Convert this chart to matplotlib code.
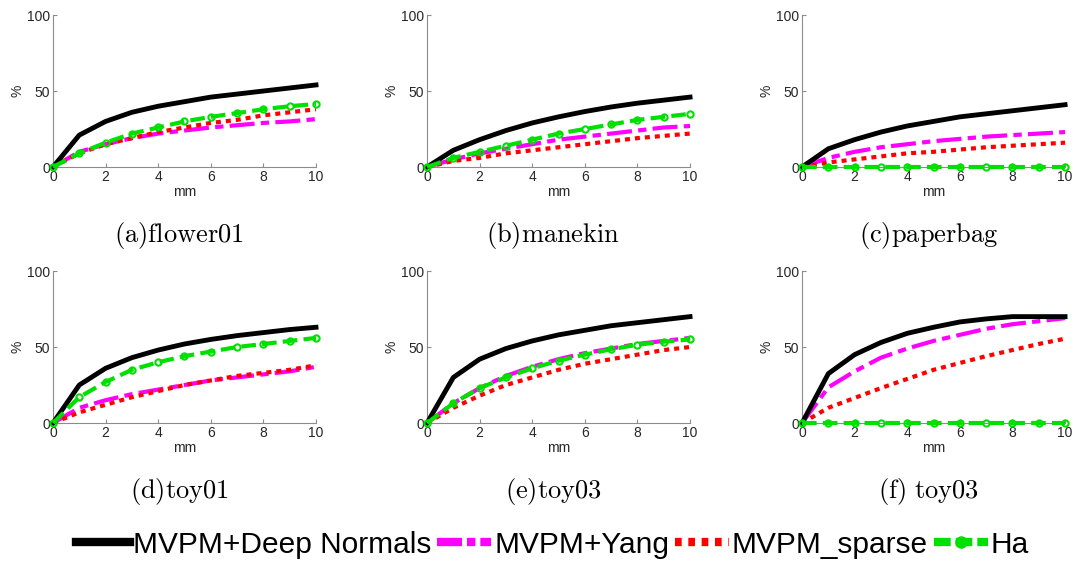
import numpy as np
import matplotlib
matplotlib.use("Agg")
import matplotlib.pyplot as plt
from matplotlib.lines import Line2D

plt.rcParams['font.family'] = ['Liberation Sans', 'DejaVu Sans']
plt.rcParams['mathtext.fontset'] = 'cm'

mm = [0, 1, 2, 3, 4, 5, 6, 7, 8, 9, 10]

titles = ['(a)flower01', '(b)manekin', '(c)paperbag', '(d)toy01', '(e)toy03', '(f) toy03']

# accuracy (%) vs. error threshold (mm), one list per method per scene
deep_normals = [
    [0, 21, 30, 36, 40, 43, 46, 48, 50, 52, 54],
    [0, 11, 18, 24, 29, 33, 36.5, 39.5, 42, 44, 46],
    [0, 12, 18, 23, 27, 30, 33, 35, 37, 39, 41],
    [0, 25, 36, 43, 48, 52, 55, 57.5, 59.5, 61.5, 63],
    [0, 30, 42, 49, 54, 58, 61, 64, 66, 68, 70],
    [0, 32.5, 45, 53, 59, 63, 66.5, 68.5, 70, 70, 70],
]
yang = [
    [0, 10, 15, 19, 22, 24, 26, 27.5, 29, 30, 31.5],
    [0, 5, 9, 12, 15, 18, 20, 22, 24, 26, 27],
    [0, 6, 10, 13, 15, 17, 18.5, 20, 21, 22, 23],
    [0, 10, 15, 19, 22, 25, 28, 30, 32, 34, 37],
    [0, 13, 23, 31, 37, 42, 46, 49, 52, 54, 56],
    [0, 23.5, 34, 43, 49, 54, 58, 62, 65, 67, 69],
]
sparse = [
    [0, 9, 15, 19, 23, 26, 29, 31, 34, 36, 38],
    [0, 4, 6, 9, 11, 13, 15, 17, 19, 20.5, 22],
    [0, 3, 5, 7, 9, 10, 11.5, 13, 14, 15, 16],
    [0, 7, 12, 17, 21, 25, 28, 31, 33, 35, 38],
    [0, 10, 18, 25, 30, 35, 39, 42, 45, 48, 50],
    [0, 10, 16.5, 23, 29, 35, 39.5, 44, 48, 52, 55.5],
]
ha = [
    [0, 9, 16, 22, 26, 30, 33, 35.5, 38, 40, 41.5],
    [0, 6, 10, 14, 18, 22, 25, 28, 31, 33, 35],
    [0, 0, 0, 0, 0, 0, 0, 0, 0, 0, 0],
    [0, 17, 27, 35, 40, 44, 47, 50, 52, 54, 56],
    [0, 13, 23, 30, 36, 41, 45, 48.5, 51.5, 53.5, 55],
    [0, 0, 0, 0, 0, 0, 0, 0, 0, 0, 0],
]

labels = ['MVPM+Deep Normals', 'MVPM+Yang', 'MVPM_sparse', 'Ha']

fig = plt.figure(figsize=(10.77, 5.65), dpi=100)

lefts = [0.0492, 0.3965, 0.7447]
bottoms = [0.7044, 0.2513]
w, h = 0.2442, 0.269

for i in range(6):
    r, c = divmod(i, 3)
    ax = fig.add_axes([lefts[c], bottoms[r], w, h])
    ax.plot(mm, deep_normals[i], color='black', lw=3.5, clip_on=False, zorder=4)
    ax.plot(mm, yang[i], color='magenta', lw=3, dashes=(6, 1.5, 2, 1.5), clip_on=False, zorder=3)
    ax.plot(mm, sparse[i], color='red', lw=3, dashes=(1.2, 1.2), clip_on=False, zorder=3)
    ax.plot(mm, ha[i], color='#00e000', lw=3, dashes=(3.5, 1.5), marker='o', ms=4.5,
            mfc='none', mew=1.5, clip_on=False, zorder=5)
    ax.set_xlim(0, 10)
    ax.set_ylim(0, 100)
    ax.set_xticks([0, 2, 4, 6, 8, 10])
    ax.set_yticks([0, 50, 100])
    ax.spines['top'].set_visible(False)
    ax.spines['right'].set_visible(False)
    for s in ('left', 'bottom'):
        ax.spines[s].set_color('0.55')
        ax.spines[s].set_linewidth(0.8)
    ax.tick_params(direction='in', length=3, width=0.8, color='0.55',
                   labelsize=10, labelcolor='#262626', pad=2)
    ax.set_xlabel('mm', fontsize=10, color='#262626', labelpad=1)
    ax.set_ylabel('%', fontsize=10, color='#262626', labelpad=2)
    ax.text(0.48, -0.45, r'$\mathrm{' + titles[i].replace(' ', r'\ ') + '}$',
            transform=ax.transAxes, ha='center', va='center', fontsize=19)

handles = [
    Line2D([], [], color='black', lw=6),
    Line2D([], [], color='magenta', lw=6, dashes=(3, 0.6, 1, 0.6)),
    Line2D([], [], color='red', lw=6, dashes=(0.8, 0.8)),
    Line2D([], [], color='#00e000', lw=6, dashes=(2, 0.6), marker='o', ms=7,
           mfc='none', mew=2),
]
fig.legend(handles, labels, loc='center', bbox_to_anchor=(0.513, 0.036), ncol=4,
           frameon=False, fontsize=21.5, handlelength=1.8, handletextpad=0.1,
           columnspacing=0.2, borderpad=0, numpoints=1)

fig.savefig('out.png', dpi=100)
